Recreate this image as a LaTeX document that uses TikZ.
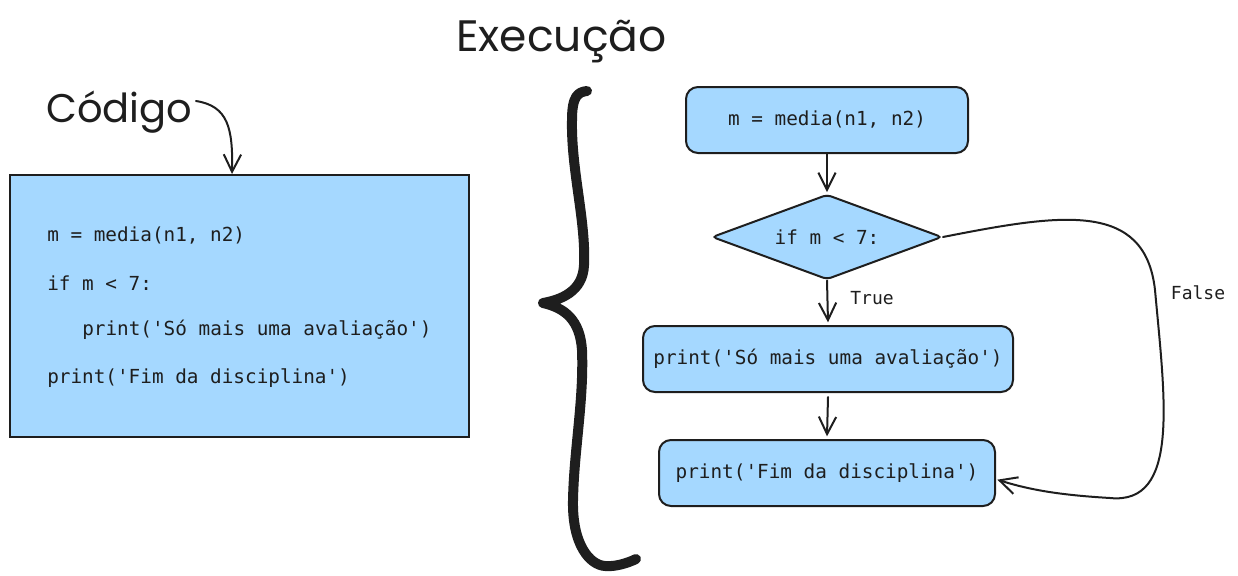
\documentclass[tikz,border=0pt]{standalone}
\usepackage{fontspec}
\setmonofont{DejaVu Sans Mono}
\newfontfamily\handfont{Poppins}
\usetikzlibrary{arrows.meta,shapes.geometric}
\definecolor{boxfill}{HTML}{A5D8FF}
\definecolor{ink}{HTML}{1E1E1E}
\tikzset{
  codefont/.style={font=\ttfamily\fontsize{14.5pt}{17pt}\selectfont, text=ink},
  labfont/.style={font=\ttfamily\fontsize{13.5pt}{16pt}\selectfont, text=ink},
  flowbox/.style={draw=ink, line width=1.5pt, fill=boxfill, rounded corners=9pt, inner sep=0pt, codefont},
  decbox/.style={draw=ink, line width=1.5pt, fill=boxfill, shape=diamond, aspect=2.7, rounded corners=3pt, inner sep=0pt, codefont},
  conn/.style={draw=ink, line width=1.5pt, line cap=round, -{Straight Barb[length=13pt,width=13pt,line width=1.5pt]}},
  hand/.style={font=\handfont\fontsize{30pt}{34pt}\selectfont, text=ink, inner sep=0pt},
}
\begin{document}
\begin{tikzpicture}[x=0.75pt,y=-0.75pt]
\useasboundingbox (0,0) rectangle (1238,575);
% left code box
\node[draw=ink, line width=1.5pt, fill=boxfill, inner sep=0pt, minimum width=459*0.75pt, minimum height=262*0.75pt] (code) at (239.5,306) {};
\node[codefont, anchor=west, inner sep=0pt] (l1) at (47,236) {m = media(n1, n2)};
\node[codefont, anchor=west, inner sep=0pt] (l2) at (47,283) {if m < 7:};
\node[codefont, anchor=west, inner sep=0pt] (l3) at (82,330) {print('Só mais uma avaliação')};
\node[codefont, anchor=west, inner sep=0pt] (l4) at (47,378) {print('Fim da disciplina')};
% titles
\node[hand, anchor=west] (codigo) at (46,112) {Código};
\node[hand, anchor=west, font=\handfont\fontsize{33pt}{36pt}\selectfont] (exec) at (456,42) {Execução};
\coordinate (cstart) at (196,101);
\coordinate (cend) at (232,174);
\draw[conn] (cstart) .. controls (228,106) and (233,128) .. (cend);
% brace
\draw[ink, line width=7.5pt, line cap=round, line join=round]
  (587,91) .. controls (578,92) and (572,96) .. (572,120)
  .. controls (571,170) and (586,220) .. (584,265)
  .. controls (583,292) and (560,300) .. (543,303)
  .. controls (565,308) and (580,320) .. (582,350)
  .. controls (584,400) and (574,450) .. (573,500)
  .. controls (572,545) and (590,565) .. (605,566)
  .. controls (615,567) and (628,563) .. (636,559);
% flowchart
\node[flowbox, minimum width=282*0.75pt, minimum height=66*0.75pt] (media) at (827,120) {m = media(n1, n2)};
\node[decbox, minimum width=230*0.75pt, minimum height=85*0.75pt] (dec) at (827,237) {if m < 7:};
\node[flowbox, minimum width=370*0.75pt, minimum height=66*0.75pt] (aval) at (828,359) {print('Só mais uma avaliação')};
\node[flowbox, minimum width=336*0.75pt, minimum height=66*0.75pt] (fim) at (827,473) {print('Fim da disciplina')};
\draw[conn] (media.south) -- ([yshift=1pt]dec.north);
\draw[conn] (dec.south) -- ([yshift=2pt]aval.north);
\node[labfont] (truel) at (872,298) {True};
\draw[conn] ([yshift=-3pt]aval.south) -- ([yshift=2pt]fim.north);
\coordinate (fend) at ([xshift=1pt,yshift=-5pt]fim.east);
\draw[conn] (dec.east) .. controls (1060,214) and (1145,200) .. (1155,290)
  .. controls (1165,400) and (1180,505) .. (1110,498)
  .. controls (1060,495) and (1030,490) .. (fend);
\node[labfont] (falsel) at (1198,293) {False};
\end{tikzpicture}
\end{document}
